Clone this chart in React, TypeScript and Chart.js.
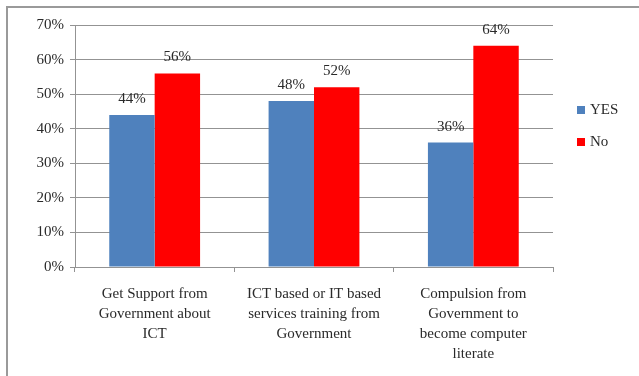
import React, { useEffect, useRef } from "react";
import { Chart, registerables } from "chart.js";

Chart.register(...registerables);

const categories: string[][] = [
  ["Get Support from", "Government about", "ICT"],
  ["ICT based or IT based", "services training from", "Government"],
  ["Compulsion from", "Government to", "become computer", "literate"],
];
const seriesNames = ["YES", "No"];
const yesValues = [44, 48, 36];
const noValues = [56, 52, 64];
const seriesColors = ["#4F81BD", "#FF0000"];
const yMin = 0;
const yMax = 70;
const yStep = 10;

const FONT = "'Liberation Serif', 'Times New Roman', serif";
const TEXT = "#2a2a2a";
const GRID = "#939393";

const dataLabels = {
  id: "dataLabels",
  afterDatasetsDraw(chart: any) {
    const ctx = chart.ctx;
    ctx.save();
    ctx.font = `15px ${FONT}`;
    ctx.fillStyle = TEXT;
    ctx.textAlign = "center";
    ctx.textBaseline = "alphabetic";
    chart.data.datasets.forEach((ds: any, i: number) => {
      const meta = chart.getDatasetMeta(i);
      meta.data.forEach((bar: any, j: number) => {
        ctx.fillText(`${ds.data[j]}%`, bar.x, bar.y - 12);
      });
    });
    ctx.restore();
  },
};

const sideLegend = {
  id: "sideLegend",
  afterDraw(chart: any) {
    const ctx = chart.ctx;
    const area = chart.chartArea;
    ctx.save();
    ctx.font = `15px ${FONT}`;
    ctx.textBaseline = "middle";
    ctx.textAlign = "left";
    const x0 = area.right + 24;
    const yMid = (area.top + area.bottom) / 2 - 20;
    chart.data.datasets.forEach((ds: any, i: number) => {
      const cy = yMid + i * 32 - 16;
      ctx.fillStyle = ds.backgroundColor;
      ctx.fillRect(x0, cy - 4, 8, 8);
      ctx.fillStyle = TEXT;
      ctx.fillText(ds.label, x0 + 13, cy);
    });
    ctx.restore();
  },
};

export default function App() {
  const ref = useRef<HTMLCanvasElement | null>(null);

  useEffect(() => {
    if (!ref.current) return;
    const chart = new Chart(ref.current, {
      type: "bar",
      data: {
        labels: categories,
        datasets: [
          {
            label: seriesNames[0],
            data: yesValues,
            backgroundColor: seriesColors[0],
            categoryPercentage: 0.57,
            barPercentage: 1,
          },
          {
            label: seriesNames[1],
            data: noValues,
            backgroundColor: seriesColors[1],
            categoryPercentage: 0.57,
            barPercentage: 1,
          },
        ],
      },
      options: {
        responsive: false,
        animation: false,
        layout: { padding: { top: 25, right: 86, bottom: 0, left: 0 } },
        plugins: {
          legend: { display: false },
          tooltip: { enabled: false },
        },
        scales: {
          x: {
            offset: true,
            grid: {
              offset: true,
              drawOnChartArea: false,
              drawTicks: true,
              tickLength: 5,
              color: GRID,
            },
            border: { color: GRID, width: 1 },
            ticks: {
              maxRotation: 0,
              autoSkip: false,
              padding: 12,
              color: TEXT,
              font: { family: FONT, size: 15, lineHeight: 1.33 },
            },
            afterFit: (s: any) => {
              s.height = 109;
            },
          },
          y: {
            min: yMin,
            max: yMax,
            ticks: {
              stepSize: yStep,
              padding: 6,
              color: TEXT,
              font: { family: FONT, size: 15 },
              callback: (v: any) => `${v}%`,
            },
            grid: { color: GRID, tickLength: 5, lineWidth: 1 },
            border: { color: GRID, width: 1 },
            afterFit: (s: any) => {
              s.width = 75;
            },
          },
        },
      },
      plugins: [dataLabels, sideLegend],
    });
    return () => chart.destroy();
  }, []);

  return (
    <div
      style={{
        position: "fixed",
        left: 0,
        top: 0,
        width: 639,
        height: 376,
        overflow: "hidden",
        background: "#fff",
      }}
    >
      <div
        style={{
          position: "absolute",
          left: 6,
          top: 6,
          width: 700,
          height: 500,
          border: "2px solid #9a9a9a",
        }}
      />
      <canvas
        ref={ref}
        width={639}
        height={376}
        style={{ position: "absolute", left: 0, top: 0 }}
      />
    </div>
  );
}
